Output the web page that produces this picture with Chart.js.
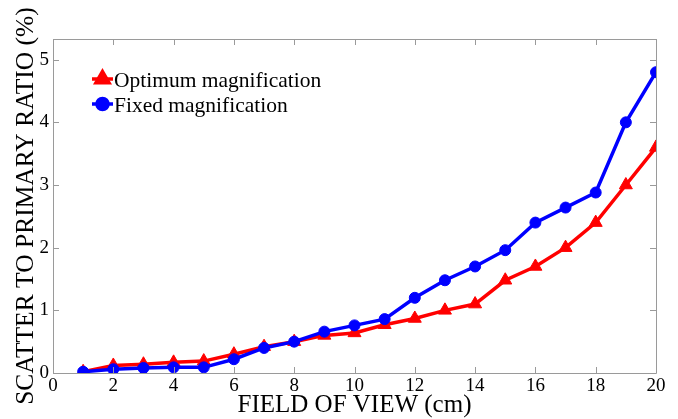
<!DOCTYPE html>
<html>
<head>
<meta charset="utf-8">
<script src="https://cdn.jsdelivr.net/npm/chart.js@4/dist/chart.umd.min.js"></script>
<style>
html,body{margin:0;padding:0;background:#fff;}
#wrap{width:678px;height:419px;position:relative;}
</style>
</head>
<body>
<div id="wrap"><canvas id="c" width="678" height="419"></canvas></div>
<script>
const fieldOfView = [1,2,3,4,5,6,7,8,9,10,11,12,13,14,15,16,17,18,19,20];
const optimumMag = [0.02,0.12,0.14,0.17,0.19,0.30,0.42,0.50,0.60,0.64,0.77,0.87,1.00,1.10,1.48,1.70,2.00,2.40,3.00,3.60];
const fixedMag = [0.02,0.06,0.08,0.09,0.09,0.22,0.40,0.50,0.66,0.76,0.86,1.20,1.48,1.70,1.96,2.40,2.64,2.88,4.00,4.80];
const seriesLabels = ["Optimum magnification","Fixed magnification"];
const xTitle = "FIELD OF VIEW (cm)";
const yTitle = "SCATTER TO PRIMARY RATIO (%)";

const SERIF = "'Liberation Serif','Times New Roman',serif";
const BORDER = '#9a9a9a';

const toPts = ys => fieldOfView.map((x,i)=>({x:x,y:ys[i]}));

const boxPlugin = {
  id:'box',
  afterDraw(chart){
    const {ctx, chartArea:a, scales:{x,y}} = chart;
    ctx.save();
    ctx.strokeStyle = BORDER;
    ctx.lineWidth = 1;
    ctx.beginPath();
    ctx.rect(Math.round(a.left)+0.5, Math.round(a.top)+0.5, Math.round(a.right-a.left), Math.round(a.bottom-a.top));
    ctx.stroke();
    const L = 6;
    ctx.beginPath();
    x.ticks.forEach(t=>{
      const px = Math.round(x.getPixelForValue(t.value))+0.5;
      ctx.moveTo(px,a.bottom); ctx.lineTo(px,a.bottom-L);
      ctx.moveTo(px,a.top); ctx.lineTo(px,a.top+L);
    });
    y.ticks.forEach(t=>{
      const py = Math.round(y.getPixelForValue(t.value))+0.5;
      ctx.moveTo(a.left,py); ctx.lineTo(a.left+L,py);
      ctx.moveTo(a.right,py); ctx.lineTo(a.right-L,py);
    });
    ctx.stroke();
    // legend
    const items = chart.data.datasets.slice().sort((p,q)=>p.legendIndex-q.legendIndex);
    ctx.font = "21.5px " + SERIF;
    ctx.textBaseline = 'middle';
    ctx.fillStyle = '#000';
    items.forEach((ds,i)=>{
      const ly = 79 + i*25;
      ctx.strokeStyle = ds.borderColor;
      ctx.lineWidth = 3.5;
      ctx.beginPath(); ctx.moveTo(92,ly); ctx.lineTo(113,ly); ctx.stroke();
      Chart.helpers.drawPoint(ctx,{pointStyle:ds.pointStyle,rotation:0,borderWidth:1,radius:ds.pointRadius},102.5,ly);
      ctx.fillStyle = ds.borderColor; ctx.fill();
      ctx.fillStyle = '#000';
      ctx.fillText(ds.label,114,ly+2);
    });
    ctx.restore();
  }
};

new Chart(document.getElementById('c'),{
  type:'line',
  data:{datasets:[
    {label:seriesLabels[0],legendIndex:0,data:toPts(optimumMag),borderColor:'#ff0000',backgroundColor:'#ff0000',borderWidth:3.5,pointStyle:'triangle',pointRadius:7.5,pointBorderWidth:1,order:1,tension:0},
    {label:seriesLabels[1],legendIndex:1,data:toPts(fixedMag),borderColor:'#0000ff',backgroundColor:'#0000ff',borderWidth:3.5,pointStyle:'circle',pointRadius:5.5,pointBorderWidth:1,order:0,tension:0}
  ]},
  options:{
    responsive:false,animation:false,
    layout:{padding:{top:39,right:22,left:0,bottom:0}},
    plugins:{legend:{display:false},tooltip:{enabled:false}},
    scales:{
      x:{type:'linear',min:0,max:20,
        ticks:{stepSize:2,color:'#000',font:{family:SERIF,size:19},padding:2,maxRotation:0},
        grid:{display:false,drawTicks:false},border:{display:false},
        title:{display:true,text:xTitle,color:'#000',font:{family:SERIF,size:25,lineHeight:1},padding:{top:0,bottom:1}},
        afterFit(s){s.height=46;}
      },
      y:{min:0,max:5.33,
        afterBuildTicks(s){s.ticks=[0,1,2,3,4,5].map(v=>({value:v}));},
        ticks:{color:'#000',font:{family:SERIF,size:19},padding:4},
        grid:{display:false,drawTicks:false},border:{display:false},
        title:{display:true,text:yTitle,color:'#000',font:{family:SERIF,size:25.5,lineHeight:1},padding:{top:14,bottom:0}},
        afterFit(s){s.width=53;}
      }
    }
  },
  plugins:[boxPlugin]
});
</script>
</body>
</html>
